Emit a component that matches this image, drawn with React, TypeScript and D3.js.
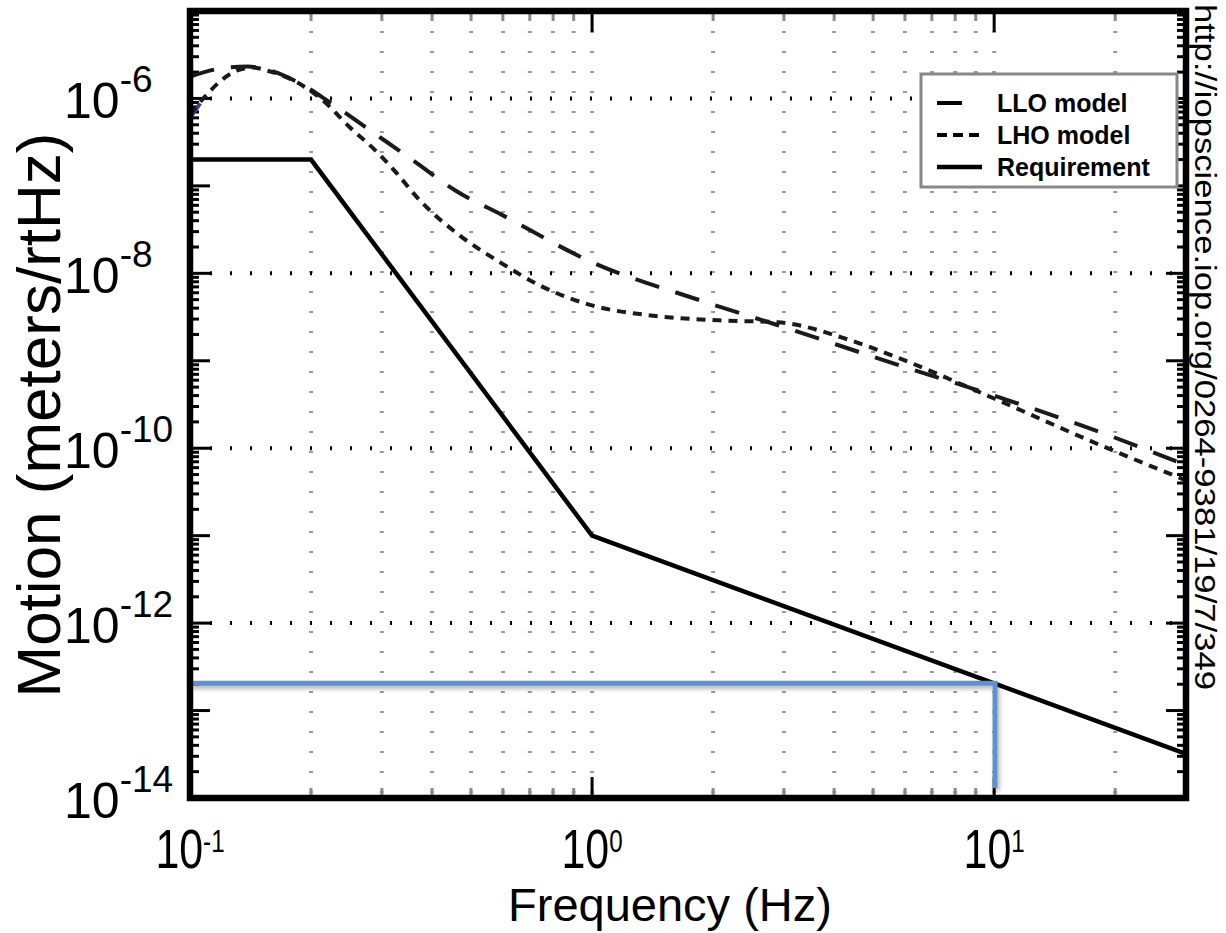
import React from 'react'
import * as d3 from 'd3'

// LLO model (long dash)
const lloFreq = [0.1, 0.119, 0.139, 0.158, 0.188, 0.223, 0.285, 0.359, 0.456, 0.6, 1.0, 1.86, 2.9, 5.8, 10, 18.4, 30]
const lloMotion = [1.78e-6, 2.2e-6, 2.32e-6, 2.09e-6, 1.48e-6, 9.0e-7, 4.1e-7, 1.95e-7, 8.9e-8, 4.6e-8, 1.34e-8, 4.9e-9, 2.55e-9, 8.9e-10, 4.0e-10, 1.52e-10, 6.4e-11]

// LHO model (short dash)
const lhoFreq = [0.1, 0.11, 0.119, 0.131, 0.1435, 0.155, 0.17, 0.185, 0.214, 0.25, 0.289, 0.327, 0.367, 0.469, 0.59, 0.74, 1.0, 1.4, 2.07, 2.9, 4.4, 5.8, 10, 18.4, 30]
const lhoMotion = [6.6e-7, 1.1e-6, 1.58e-6, 2.09e-6, 2.26e-6, 2.09e-6, 1.83e-6, 1.52e-6, 9.5e-7, 4.66e-7, 2.55e-7, 1.39e-7, 7.4e-8, 2.7e-8, 1.34e-8, 7.3e-9, 4.3e-9, 3.3e-9, 2.9e-9, 2.75e-9, 1.71e-9, 1.07e-9, 3.7e-10, 1.08e-10, 4.3e-11]

// third trace, only a sliver visible at the left edge
const hiddenFreq = [0.1, 0.106]
const hiddenMotion = [6.0e-7, 8.8e-7]

// Requirement (solid)
const reqFreq = [0.1, 0.2, 1.0, 30]
const reqMotion = [2e-7, 2e-7, 1e-11, 3.2e-14]

// blue marker at 10 Hz
const markerFreq = [0.1, 10.05, 10.05]
const markerMotion = [2.05e-13, 2.05e-13, 1.3e-14]

const xLabelExps = [-1, 0, 1]
const yLabelExps = [-6, -8, -10, -12, -14]
const yGridExps = [-6, -8, -10, -12]

const legendItems = [
  { label: 'LLO model', dash: '25 17' },
  { label: 'LHO model', dash: '10 6' },
  { label: 'Requirement', dash: null },
]

const W = 1226
const H = 933
const sans = '"Liberation Sans", Arial, Helvetica, sans-serif'

const isDecade = (v: number) => Math.abs(Math.log10(v) - Math.round(Math.log10(v))) < 1e-6

export default function App() {
  const x = d3.scaleLog().domain([0.1, 30]).range([190, 1186])
  const y = d3.scaleLog().domain([1e-14, 1e-5]).range([798, 11])
  const [x0, x1] = x.range()
  const [yb, yt] = y.range()

  const smooth = d3.line<[number, number]>()
    .x(d => x(d[0]))
    .y(d => y(d[1]))
    .curve(d3.curveMonotoneX)
  const straight = d3.line<[number, number]>()
    .x(d => x(d[0]))
    .y(d => y(d[1]))

  const zip = (a: number[], b: number[]) => a.map((f, i) => [f, b[i]] as [number, number])

  const xTicks = x.ticks()
  const yTicks = y.ticks()

  return (
    <svg width={W} height={H} style={{ position: 'absolute', left: 0, top: 0, background: '#fff' }}>
      <defs>
        <clipPath id="plot">
          <rect x={x0} y={yt} width={x1 - x0} height={yb - yt} />
        </clipPath>
        <filter id="shadow" x="-5%" y="-5%" width="110%" height="120%">
          <feDropShadow dx="2" dy="3" stdDeviation="2" floodColor="#000" floodOpacity="0.3" />
        </filter>
      </defs>

      {/* vertical grid */}
      {xTicks.map((t, i) => (
        <line key={'vg' + i} x1={x(t)} x2={x(t)} y1={yt} y2={yb}
          stroke="#9a9a9a" strokeWidth={4} strokeDasharray="2 18" />
      ))}
      {/* horizontal grid at labelled decades */}
      {yGridExps.map(e => (
        <line key={'hg' + e} x1={x0} x2={x1} y1={y(Math.pow(10, e))} y2={y(Math.pow(10, e))}
          stroke="#000" strokeWidth={4} strokeDasharray="2 18" />
      ))}

      {/* x ticks top & bottom */}
      {xTicks.map((t, i) => {
        const major = isDecade(t)
        const len = major ? 21 : 10
        const col = major ? '#000' : '#8a8a8a'
        return (
          <g key={'xt' + i}>
            <line x1={x(t)} x2={x(t)} y1={yb} y2={yb - len} stroke={col} strokeWidth={3} />
            <line x1={x(t)} x2={x(t)} y1={yt} y2={yt + len} stroke={col} strokeWidth={3} />
          </g>
        )
      })}
      {/* y ticks left & right */}
      {yTicks.map((t, i) => {
        const len = isDecade(t) ? 20 : 9
        return (
          <g key={'yt' + i}>
            <line x1={x0} x2={x0 + len} y1={y(t)} y2={y(t)} stroke="#000" strokeWidth={3} />
            <line x1={x1} x2={x1 - len} y1={y(t)} y2={y(t)} stroke="#000" strokeWidth={3} />
          </g>
        )
      })}

      {/* curves */}
      <g clipPath="url(#plot)" fill="none">
        <path d={smooth(zip(hiddenFreq, hiddenMotion)) || ''} stroke="#3a3a9a" strokeWidth={4} />
        <path d={smooth(zip(lloFreq, lloMotion)) || ''} stroke="#1a1a1a" strokeWidth={4} strokeDasharray="25 17" />
        <path d={smooth(zip(lhoFreq, lhoMotion)) || ''} stroke="#1a1a1a" strokeWidth={4} strokeDasharray="9 7" />
        <path d={straight(zip(reqFreq, reqMotion)) || ''} stroke="#000" strokeWidth={4.5} />
        <path d={straight(zip(markerFreq, markerMotion)) || ''} stroke="#5b93cf" strokeWidth={5} filter="url(#shadow)" />
      </g>

      {/* frame */}
      <rect x={x0} y={yt} width={x1 - x0} height={yb - yt} fill="none" stroke="#000" strokeWidth={6.5} />

      {/* legend */}
      <g>
        <rect x={921} y={74} width={256} height={113} fill="#fff" stroke="#888" strokeWidth={3} />
        {legendItems.map((d, i) => {
          const ly = 103 + i * 32
          return (
            <g key={d.label}>
              <line x1={937} x2={d.dash === '25 17' ? 962 : 982} y1={ly} y2={ly} stroke="#000"
                strokeWidth={d.dash ? 4 : 4.5} strokeDasharray={d.dash || undefined} />
              <text x={997} y={ly + 9} fontFamily={sans} fontWeight="bold" fontSize={25} fill="#000">{d.label}</text>
            </g>
          )
        })}
      </g>

      {/* y tick labels */}
      {yLabelExps.map(e => (
        <text key={'yl' + e} x={64} y={y(Math.pow(10, e)) + 20} fontFamily={sans} fontSize={50} fill="#000">
          10<tspan dy={-26} fontSize={37}>{'-' + Math.abs(e)}</tspan>
        </text>
      ))}

      {/* x tick labels (condensed) */}
      {xLabelExps.map(e => (
        <text key={'xl' + e} transform={`translate(${x(Math.pow(10, e))},868) scale(0.78,1)`}
          textAnchor="middle" fontFamily={sans} fontSize={55} fill="#000">
          10<tspan dy={-16} fontSize={31}>{e < 0 ? '-' + Math.abs(e) : String(e)}</tspan>
        </text>
      ))}

      {/* axis titles */}
      <text x={670} y={921} textAnchor="middle" fontFamily={sans} fontSize={47} fill="#000">Frequency (Hz)</text>
      <text transform="translate(60,415) rotate(-90)" textAnchor="middle" fontFamily={sans} fontSize={62} fill="#000">
        Motion (meters/rtHz)
      </text>

      {/* source url */}
      <text transform="translate(1195,4) rotate(90)" fontFamily={sans} fontSize={29}
        textLength={686} lengthAdjust="spacingAndGlyphs" fill="#000">
        http://iopscience.iop.org/0264-9381/19/7/349
      </text>
    </svg>
  )
}
